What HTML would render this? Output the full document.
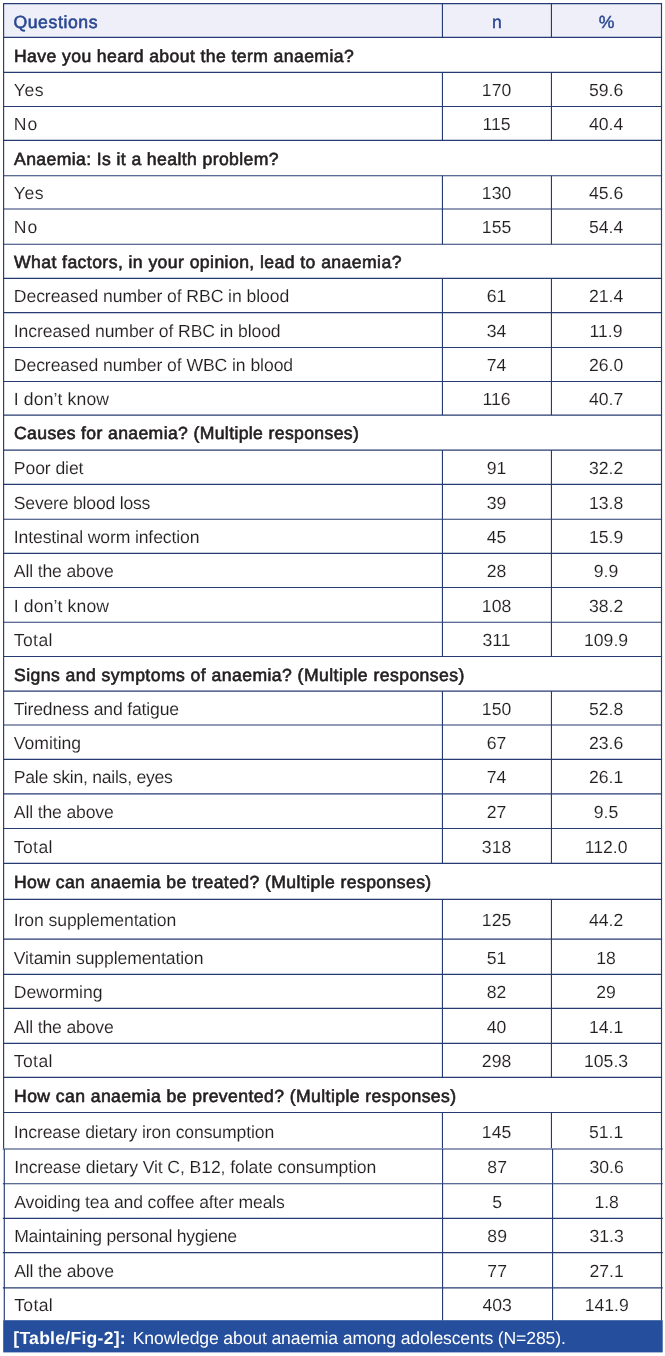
<!DOCTYPE html>
<html lang="en"><head><meta charset="utf-8"><title>Table/Fig-2</title>
<style>
html,body{margin:0;padding:0;background:#fff;}
body{width:665px;height:1356px;position:relative;overflow:hidden;font-family:"Liberation Sans",Arial,Helvetica,sans-serif;font-size:17.6px;color:#231f20;text-rendering:geometricPrecision;}
svg.grid{position:absolute;left:0;top:0;}
.c{position:absolute;white-space:nowrap;line-height:20px;height:20px;-webkit-text-stroke:0.1px #fff;}
.l{left:14.4px;}
.n{left:442.05px;width:109.00000000000006px;text-align:center;}
.p{left:551.0500000000001px;width:110.04999999999995px;text-align:center;}
.q{font-weight:normal;-webkit-text-stroke:0.62px #231f20;}
.h{color:#2a4792;}
.h{font-weight:normal;-webkit-text-stroke:0.58px #2a4792;}
.capt{color:#fff;-webkit-text-stroke:0;}
</style></head><body>
<svg class="grid" width="665" height="1356" viewBox="0 0 665 1356">
<rect x="3.6" y="3.6" width="657.9" height="33.699999999999996" fill="#eeeff8"/>
<rect x="3.2" y="1320.2" width="659.5" height="32.2" fill="#254e9c"/>
<g stroke="#263b72" stroke-width="1.15" fill="none">
<line x1="3.0250000000000004" y1="3.6" x2="662.075" y2="3.6"/>
<line x1="3.0250000000000004" y1="37.3" x2="662.075" y2="37.3"/>
<line x1="3.0250000000000004" y1="72.4" x2="662.075" y2="72.4"/>
<line x1="3.0250000000000004" y1="106.5" x2="662.075" y2="106.5"/>
<line x1="3.0250000000000004" y1="140.4" x2="662.075" y2="140.4"/>
<line x1="3.0250000000000004" y1="175.7" x2="662.075" y2="175.7"/>
<line x1="3.0250000000000004" y1="209.0" x2="662.075" y2="209.0"/>
<line x1="3.0250000000000004" y1="244.2" x2="662.075" y2="244.2"/>
<line x1="3.0250000000000004" y1="278.3" x2="662.075" y2="278.3"/>
<line x1="3.0250000000000004" y1="312.6" x2="662.075" y2="312.6"/>
<line x1="3.0250000000000004" y1="347.5" x2="662.075" y2="347.5"/>
<line x1="3.0250000000000004" y1="381.5" x2="662.075" y2="381.5"/>
<line x1="3.0250000000000004" y1="415.1" x2="662.075" y2="415.1"/>
<line x1="3.0250000000000004" y1="450.1" x2="662.075" y2="450.1"/>
<line x1="3.0250000000000004" y1="484.4" x2="662.075" y2="484.4"/>
<line x1="3.0250000000000004" y1="519.2" x2="662.075" y2="519.2"/>
<line x1="3.0250000000000004" y1="553.4" x2="662.075" y2="553.4"/>
<line x1="3.0250000000000004" y1="587.5" x2="662.075" y2="587.5"/>
<line x1="3.0250000000000004" y1="622.2" x2="662.075" y2="622.2"/>
<line x1="3.0250000000000004" y1="656.5" x2="662.075" y2="656.5"/>
<line x1="3.0250000000000004" y1="691.1" x2="662.075" y2="691.1"/>
<line x1="3.0250000000000004" y1="725.0" x2="662.075" y2="725.0"/>
<line x1="3.0250000000000004" y1="759.4" x2="662.075" y2="759.4"/>
<line x1="3.0250000000000004" y1="793.9" x2="662.075" y2="793.9"/>
<line x1="3.0250000000000004" y1="828.5" x2="662.075" y2="828.5"/>
<line x1="3.0250000000000004" y1="863.3" x2="662.075" y2="863.3"/>
<line x1="3.0250000000000004" y1="899.4" x2="662.075" y2="899.4"/>
<line x1="3.0250000000000004" y1="939.1" x2="662.075" y2="939.1"/>
<line x1="3.0250000000000004" y1="974.4" x2="662.075" y2="974.4"/>
<line x1="3.0250000000000004" y1="1008.4" x2="662.075" y2="1008.4"/>
<line x1="3.0250000000000004" y1="1043.4" x2="662.075" y2="1043.4"/>
<line x1="3.0250000000000004" y1="1077.3" x2="662.075" y2="1077.3"/>
<line x1="3.0250000000000004" y1="1112.5" x2="662.075" y2="1112.5"/>
<line x1="2.8" y1="1149.0" x2="662.8" y2="1149.0"/>
<line x1="2.8" y1="1183.7" x2="662.8" y2="1183.7"/>
<line x1="2.8" y1="1218.3" x2="662.8" y2="1218.3"/>
<line x1="2.8" y1="1252.6" x2="662.8" y2="1252.6"/>
<line x1="2.8" y1="1287.8" x2="662.8" y2="1287.8"/>
<line x1="3.6" y1="3.6" x2="3.6" y2="1148.5"/>
<line x1="4.3" y1="1149.0" x2="4.3" y2="1320.3"/>
<line x1="661.5" y1="3.6" x2="661.5" y2="1320.3"/>
<line x1="442.45" y1="3.6" x2="442.45" y2="37.3"/>
<line x1="551.45" y1="3.6" x2="551.45" y2="37.3"/>
<line x1="442.45" y1="72.4" x2="442.45" y2="106.5"/>
<line x1="551.45" y1="72.4" x2="551.45" y2="106.5"/>
<line x1="442.45" y1="106.5" x2="442.45" y2="140.4"/>
<line x1="551.45" y1="106.5" x2="551.45" y2="140.4"/>
<line x1="442.45" y1="175.7" x2="442.45" y2="209.0"/>
<line x1="551.45" y1="175.7" x2="551.45" y2="209.0"/>
<line x1="442.45" y1="209.0" x2="442.45" y2="244.2"/>
<line x1="551.45" y1="209.0" x2="551.45" y2="244.2"/>
<line x1="442.45" y1="278.3" x2="442.45" y2="312.6"/>
<line x1="551.45" y1="278.3" x2="551.45" y2="312.6"/>
<line x1="442.45" y1="312.6" x2="442.45" y2="347.5"/>
<line x1="551.45" y1="312.6" x2="551.45" y2="347.5"/>
<line x1="442.45" y1="347.5" x2="442.45" y2="381.5"/>
<line x1="551.45" y1="347.5" x2="551.45" y2="381.5"/>
<line x1="442.45" y1="381.5" x2="442.45" y2="415.1"/>
<line x1="551.45" y1="381.5" x2="551.45" y2="415.1"/>
<line x1="442.45" y1="450.1" x2="442.45" y2="484.4"/>
<line x1="551.45" y1="450.1" x2="551.45" y2="484.4"/>
<line x1="442.45" y1="484.4" x2="442.45" y2="519.2"/>
<line x1="551.45" y1="484.4" x2="551.45" y2="519.2"/>
<line x1="442.45" y1="519.2" x2="442.45" y2="553.4"/>
<line x1="551.45" y1="519.2" x2="551.45" y2="553.4"/>
<line x1="442.45" y1="553.4" x2="442.45" y2="587.5"/>
<line x1="551.45" y1="553.4" x2="551.45" y2="587.5"/>
<line x1="442.45" y1="587.5" x2="442.45" y2="622.2"/>
<line x1="551.45" y1="587.5" x2="551.45" y2="622.2"/>
<line x1="442.45" y1="622.2" x2="442.45" y2="656.5"/>
<line x1="551.45" y1="622.2" x2="551.45" y2="656.5"/>
<line x1="442.45" y1="691.1" x2="442.45" y2="725.0"/>
<line x1="551.45" y1="691.1" x2="551.45" y2="725.0"/>
<line x1="442.45" y1="725.0" x2="442.45" y2="759.4"/>
<line x1="551.45" y1="725.0" x2="551.45" y2="759.4"/>
<line x1="442.45" y1="759.4" x2="442.45" y2="793.9"/>
<line x1="551.45" y1="759.4" x2="551.45" y2="793.9"/>
<line x1="442.45" y1="793.9" x2="442.45" y2="828.5"/>
<line x1="551.45" y1="793.9" x2="551.45" y2="828.5"/>
<line x1="442.45" y1="828.5" x2="442.45" y2="863.3"/>
<line x1="551.45" y1="828.5" x2="551.45" y2="863.3"/>
<line x1="442.45" y1="899.4" x2="442.45" y2="939.1"/>
<line x1="551.45" y1="899.4" x2="551.45" y2="939.1"/>
<line x1="442.45" y1="939.1" x2="442.45" y2="974.4"/>
<line x1="551.45" y1="939.1" x2="551.45" y2="974.4"/>
<line x1="442.45" y1="974.4" x2="442.45" y2="1008.4"/>
<line x1="551.45" y1="974.4" x2="551.45" y2="1008.4"/>
<line x1="442.45" y1="1008.4" x2="442.45" y2="1043.4"/>
<line x1="551.45" y1="1008.4" x2="551.45" y2="1043.4"/>
<line x1="442.45" y1="1043.4" x2="442.45" y2="1077.3"/>
<line x1="551.45" y1="1043.4" x2="551.45" y2="1077.3"/>
<line x1="442.45" y1="1112.5" x2="442.45" y2="1148.1"/>
<line x1="551.45" y1="1112.5" x2="551.45" y2="1148.1"/>
<line x1="442.55" y1="1149.0" x2="442.55" y2="1183.7"/>
<line x1="552.55" y1="1149.0" x2="552.55" y2="1183.7"/>
<line x1="442.55" y1="1183.7" x2="442.55" y2="1218.3"/>
<line x1="552.55" y1="1183.7" x2="552.55" y2="1218.3"/>
<line x1="442.55" y1="1218.3" x2="442.55" y2="1252.6"/>
<line x1="552.55" y1="1218.3" x2="552.55" y2="1252.6"/>
<line x1="442.55" y1="1252.6" x2="442.55" y2="1287.8"/>
<line x1="552.55" y1="1252.6" x2="552.55" y2="1287.8"/>
<line x1="442.55" y1="1287.8" x2="442.55" y2="1320.3"/>
<line x1="552.55" y1="1287.8" x2="552.55" y2="1320.3"/>
</g></svg>
<div role="table" aria-label="Knowledge about anaemia among adolescents">
<div role="row"><div role="columnheader" class="c l h" style="top:12px;left:13.4px;letter-spacing:0.619px">Questions</div><div role="columnheader" class="c n h" style="top:12px;margin-left:0.4px;-webkit-text-stroke-width:0.42px">n</div><div role="columnheader" class="c p h" style="top:12px;margin-left:0.4px;-webkit-text-stroke-width:0.42px">%</div></div>
<div role="row"><div role="cell" class="c l q" style="top:46px;left:14.0px;letter-spacing:0.405px">Have you heard about the term anaemia?</div></div>
<div role="row"><div role="cell" class="c l" style="top:80px;left:13.8px;letter-spacing:0.568px">Yes</div><div role="cell" class="c n" style="top:80px">170</div><div role="cell" class="c p" style="top:80px">59.6</div></div>
<div role="row"><div role="cell" class="c l" style="top:114px;left:13.8px;letter-spacing:1.0px">No</div><div role="cell" class="c n" style="top:114px">115</div><div role="cell" class="c p" style="top:114px">40.4</div></div>
<div role="row"><div role="cell" class="c l q" style="top:149px;left:14.0px;letter-spacing:0.395px">Anaemia: Is it a health problem?</div></div>
<div role="row"><div role="cell" class="c l" style="top:183px;left:13.8px;letter-spacing:0.568px">Yes</div><div role="cell" class="c n" style="top:183px">130</div><div role="cell" class="c p" style="top:183px">45.6</div></div>
<div role="row"><div role="cell" class="c l" style="top:217px;left:13.8px;letter-spacing:1.0px">No</div><div role="cell" class="c n" style="top:217px">155</div><div role="cell" class="c p" style="top:217px">54.4</div></div>
<div role="row"><div role="cell" class="c l q" style="top:252px;left:14.0px;letter-spacing:0.428px">What factors, in your opinion, lead to anaemia?</div></div>
<div role="row"><div role="cell" class="c l" style="top:286px;left:13.8px;letter-spacing:-0.076px">Decreased number of RBC in blood</div><div role="cell" class="c n" style="top:286px">61</div><div role="cell" class="c p" style="top:286px">21.4</div></div>
<div role="row"><div role="cell" class="c l" style="top:321px;left:13.8px;letter-spacing:-0.1px">Increased number of RBC in blood</div><div role="cell" class="c n" style="top:321px">34</div><div role="cell" class="c p" style="top:321px">11.9</div></div>
<div role="row"><div role="cell" class="c l" style="top:355px;left:13.8px;letter-spacing:-0.074px">Decreased number of WBC in blood</div><div role="cell" class="c n" style="top:355px">74</div><div role="cell" class="c p" style="top:355px">26.0</div></div>
<div role="row"><div role="cell" class="c l" style="top:389px;left:13.8px;letter-spacing:0.122px">I don’t know</div><div role="cell" class="c n" style="top:389px">116</div><div role="cell" class="c p" style="top:389px">40.7</div></div>
<div role="row"><div role="cell" class="c l q" style="top:423px;left:14.0px;letter-spacing:0.367px">Causes for anaemia? (Multiple responses)</div></div>
<div role="row"><div role="cell" class="c l" style="top:458px;left:13.8px;letter-spacing:-0.092px">Poor diet</div><div role="cell" class="c n" style="top:458px">91</div><div role="cell" class="c p" style="top:458px">32.2</div></div>
<div role="row"><div role="cell" class="c l" style="top:493px;left:13.8px;letter-spacing:-0.202px">Severe blood loss</div><div role="cell" class="c n" style="top:493px">39</div><div role="cell" class="c p" style="top:493px">13.8</div></div>
<div role="row"><div role="cell" class="c l" style="top:527px;left:13.8px;letter-spacing:-0.129px">Intestinal worm infection</div><div role="cell" class="c n" style="top:527px">45</div><div role="cell" class="c p" style="top:527px">15.9</div></div>
<div role="row"><div role="cell" class="c l" style="top:561px;left:13.8px;letter-spacing:-0.15px">All the above</div><div role="cell" class="c n" style="top:561px">28</div><div role="cell" class="c p" style="top:561px">9.9</div></div>
<div role="row"><div role="cell" class="c l" style="top:596px;left:13.8px;letter-spacing:0.122px">I don’t know</div><div role="cell" class="c n" style="top:596px">108</div><div role="cell" class="c p" style="top:596px">38.2</div></div>
<div role="row"><div role="cell" class="c l" style="top:630px;left:13.8px;letter-spacing:0.372px">Total</div><div role="cell" class="c n" style="top:630px">311</div><div role="cell" class="c p" style="top:630px">109.9</div></div>
<div role="row"><div role="cell" class="c l q" style="top:665px;left:14.0px;letter-spacing:0.442px">Signs and symptoms of anaemia? (Multiple responses)</div></div>
<div role="row"><div role="cell" class="c l" style="top:699px;left:13.8px;letter-spacing:-0.162px">Tiredness and fatigue</div><div role="cell" class="c n" style="top:699px">150</div><div role="cell" class="c p" style="top:699px">52.8</div></div>
<div role="row"><div role="cell" class="c l" style="top:733px;left:13.8px;letter-spacing:-0.032px">Vomiting</div><div role="cell" class="c n" style="top:733px">67</div><div role="cell" class="c p" style="top:733px">23.6</div></div>
<div role="row"><div role="cell" class="c l" style="top:767px;left:13.8px;letter-spacing:-0.25px">Pale skin, nails, eyes</div><div role="cell" class="c n" style="top:767px">74</div><div role="cell" class="c p" style="top:767px">26.1</div></div>
<div role="row"><div role="cell" class="c l" style="top:802px;left:13.8px;letter-spacing:-0.15px">All the above</div><div role="cell" class="c n" style="top:802px">27</div><div role="cell" class="c p" style="top:802px">9.5</div></div>
<div role="row"><div role="cell" class="c l" style="top:837px;left:13.8px;letter-spacing:0.372px">Total</div><div role="cell" class="c n" style="top:837px">318</div><div role="cell" class="c p" style="top:837px">112.0</div></div>
<div role="row"><div role="cell" class="c l q" style="top:872px;left:14.0px;letter-spacing:0.408px">How can anaemia be treated? (Multiple responses)</div></div>
<div role="row"><div role="cell" class="c l" style="top:910px;left:13.8px;letter-spacing:-0.097px">Iron supplementation</div><div role="cell" class="c n" style="top:910px">125</div><div role="cell" class="c p" style="top:910px">44.2</div></div>
<div role="row"><div role="cell" class="c l" style="top:948px;left:13.8px;letter-spacing:-0.124px">Vitamin supplementation</div><div role="cell" class="c n" style="top:948px">51</div><div role="cell" class="c p" style="top:948px">18</div></div>
<div role="row"><div role="cell" class="c l" style="top:982px;left:13.8px;letter-spacing:-0.038px">Deworming</div><div role="cell" class="c n" style="top:982px">82</div><div role="cell" class="c p" style="top:982px">29</div></div>
<div role="row"><div role="cell" class="c l" style="top:1017px;left:13.8px;letter-spacing:-0.15px">All the above</div><div role="cell" class="c n" style="top:1017px">40</div><div role="cell" class="c p" style="top:1017px">14.1</div></div>
<div role="row"><div role="cell" class="c l" style="top:1051px;left:13.8px;letter-spacing:0.372px">Total</div><div role="cell" class="c n" style="top:1051px">298</div><div role="cell" class="c p" style="top:1051px">105.3</div></div>
<div role="row"><div role="cell" class="c l q" style="top:1086px;left:14.0px;letter-spacing:0.421px">How can anaemia be prevented? (Multiple responses)</div></div>
<div role="row"><div role="cell" class="c l" style="top:1122px;left:13.8px;letter-spacing:-0.111px">Increase dietary iron consumption</div><div role="cell" class="c n" style="top:1122px">145</div><div role="cell" class="c p" style="top:1122px">51.1</div></div>
<div role="row"><div role="cell" class="c l" style="top:1157px;left:14.2px;letter-spacing:-0.095px">Increase dietary Vit C, B12, folate consumption</div><div role="cell" class="c n" style="top:1157px;margin-left:0.6px">87</div><div role="cell" class="c p" style="top:1157px;margin-left:0.6px">30.6</div></div>
<div role="row"><div role="cell" class="c l" style="top:1192px;left:14.2px;letter-spacing:-0.132px">Avoiding tea and coffee after meals</div><div role="cell" class="c n" style="top:1192px;margin-left:0.6px">5</div><div role="cell" class="c p" style="top:1192px;margin-left:0.6px">1.8</div></div>
<div role="row"><div role="cell" class="c l" style="top:1226px;left:14.2px;letter-spacing:-0.221px">Maintaining personal hygiene</div><div role="cell" class="c n" style="top:1226px;margin-left:0.6px">89</div><div role="cell" class="c p" style="top:1226px;margin-left:0.6px">31.3</div></div>
<div role="row"><div role="cell" class="c l" style="top:1261px;left:14.2px;letter-spacing:-0.164px">All the above</div><div role="cell" class="c n" style="top:1261px;margin-left:0.6px">77</div><div role="cell" class="c p" style="top:1261px;margin-left:0.6px">27.1</div></div>
<div role="row"><div role="cell" class="c l" style="top:1295px;left:14.2px;letter-spacing:0.327px">Total</div><div role="cell" class="c n" style="top:1295px;margin-left:0.6px">403</div><div role="cell" class="c p" style="top:1295px;margin-left:0.6px">141.9</div></div>
</div>
<div role="caption"><div class="c capt" style="top:1328px;left:13.3px;letter-spacing:0.248px;font-weight:bold;-webkit-text-stroke:0">[Table/Fig-2]:</div><div class="c capt" style="top:1328px;left:132.75px;letter-spacing:-0.134px">Knowledge about anaemia among adolescents (N=285).</div></div>
</body></html>
